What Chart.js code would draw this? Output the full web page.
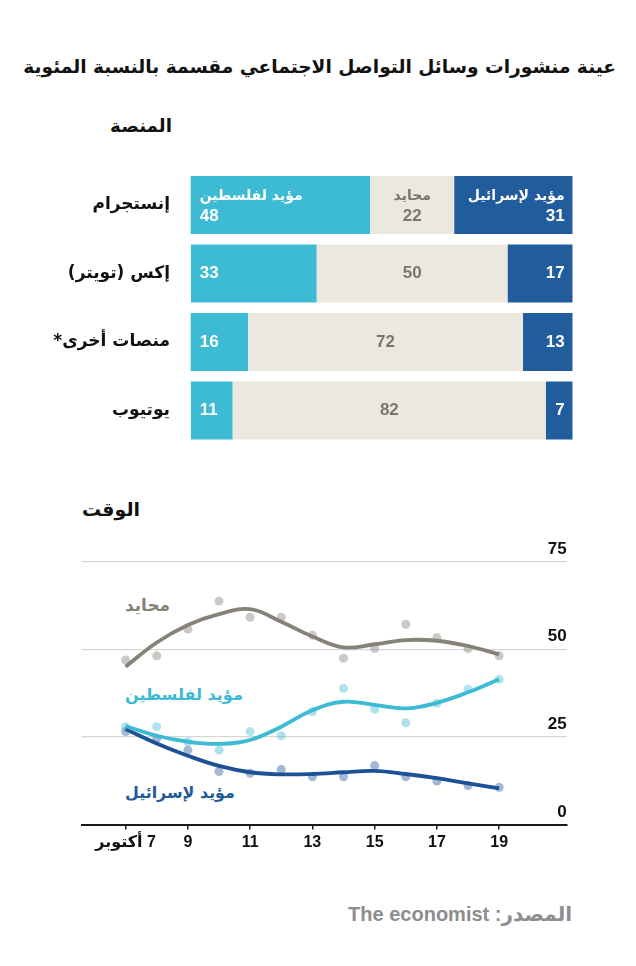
<!DOCTYPE html>
<html lang="ar">
<head>
<meta charset="utf-8">
<script src="https://cdn.jsdelivr.net/npm/chart.js@4.4.0/dist/chart.umd.min.js"></script>
<style>
    html, body { margin: 0; padding: 0; background: #fff; }
    body { width: 636px; height: 966px; position: relative; overflow: hidden; font-family: "Liberation Sans", "DejaVu Sans", sans-serif; }
    .txt { position: absolute; white-space: nowrap; font-weight: bold; line-height: 1; direction: rtl; }
    canvas { position: absolute; left: 0; direction: rtl; }
    #title { top: 58px; right: 20px; font-size: 21px; color: #111; font-family: "DejaVu Sans"; }
    #platformHead { top: 117px; right: 464px; font-size: 18px; color: #111; font-family: "DejaVu Sans"; }
    #timeHead { top: 500px; right: 496px; font-size: 18px; color: #111; font-family: "DejaVu Sans"; }
    #source { top: 904px; right: 64px; font-size: 19px; color: #8d8d8d; }
    .seriesTag { left: 125px; font-size: 15px; font-family: "DejaVu Sans"; }
    #barChart { top: 150px; }
    #lineChart { top: 530px; }
</style>
</head>
<body>
<div class="txt" id="title" data-w="593">عينة منشورات وسائل التواصل الاجتماعي مقسمة بالنسبة  المئوية</div>
<div class="txt" id="platformHead" data-w="62">المنصة</div>
<canvas id="barChart" width="636" height="310"></canvas>
<div class="txt" id="timeHead" data-w="58">الوقت</div>
<div class="txt seriesTag" id="tagNeutral" style="top:597px;color:#868274" data-w="45"></div>
<div class="txt seriesTag" id="tagPal" style="top:687px;color:#3cb9d4" data-w="118"></div>
<div class="txt seriesTag" id="tagIsr" style="top:785px;color:#235a9a" data-w="110"></div>
<canvas id="lineChart" width="636" height="340"></canvas>
<div class="txt" id="source" data-w="224">المصدر: The economist</div>

<script>
// ---- platform bars (percent of sampled posts) ----
const platforms = ['إنستجرام', 'إكس (تويتر)', 'منصات أخرى*', 'يوتيوب'];
const proIsrael = [31, 17, 13, 7];
const neutral = [22, 50, 72, 82];
const proPalestine = [48, 33, 16, 11];
const seriesNames = ['مؤيد لإسرائيل', 'محايد', 'مؤيد لفلسطين'];

// ---- daily share over time ----
const days = [7, 8, 9, 10, 11, 12, 13, 14, 15, 16, 17, 18, 19];
const neutralDots = [46.9, 48.1, 55.7, 63.7, 59.1, 59.1, 54.0, 47.4, 50.2, 57.1, 53.3, 50.2, 48.1];
const neutralTrend = [45.0, 51.9, 56.9, 60.0, 61.4, 57.8, 53.6, 50.5, 51.4, 52.6, 52.4, 50.9, 48.5];
const palestineDots = [27.9, 27.9, 23.6, 21.2, 26.5, 25.3, 32.2, 38.8, 32.9, 29.0, 34.6, 38.6, 41.4];
const palestineTrend = [28.1, 25.3, 23.6, 23.0, 24.1, 27.9, 32.6, 35.0, 34.1, 33.1, 34.7, 37.7, 41.4];
const israelDots = [26.5, 24.5, 21.2, 15.1, 14.6, 15.7, 13.6, 13.6, 16.8, 13.6, 12.4, 11.1, 10.6];
const israelTrend = [27.2, 23.1, 19.6, 16.7, 14.9, 14.3, 14.4, 14.9, 15.3, 14.4, 13.2, 11.7, 10.3];
const dayTicks = [7, 9, 11, 13, 15, 17, 19];
const dayTickLabels = ['7 أكتوبر', '9', '11', '13', '15', '17', '19'];
const valueTicks = [0, 25, 50, 75];

const colors = {
    israel: '#215c9c',
    neutral: '#ebe8e0',
    palestine: '#3dbad4',
    neutralText: '#7c7767',
    neutralLine: '#868376',
    israelLine: '#1d5195',
    grid: '#d6d6d6',
    axis: '#1a1a1a'
};

const numFont = 'bold 17px "Liberation Sans", "DejaVu Sans"';
const nameFont = 'bold 14px "DejaVu Sans"';

function fitText() {
    document.querySelectorAll('.txt[data-w]').forEach(el => {
        const target = parseFloat(el.dataset.w);
        const size = parseFloat(getComputedStyle(el).fontSize);
        const w = el.getBoundingClientRect().width;
        if (w > 0) el.style.fontSize = (size * target / w).toFixed(2) + 'px';
    });
}

document.getElementById('tagNeutral').textContent = seriesNames[1];
document.getElementById('tagPal').textContent = seriesNames[2];
document.getElementById('tagIsr').textContent = seriesNames[0];
fitText();

const barLabels = {
    id: 'barLabels',
    afterDatasetsDraw(chart) {
        const ctx = chart.ctx;
        const area = chart.chartArea;
        ctx.save();
        ctx.textBaseline = 'middle';
        chart.data.datasets.forEach((ds, di) => {
            const meta = chart.getDatasetMeta(di);
            meta.data.forEach((bar, i) => {
                const left = Math.max(Math.min(bar.x, bar.base), area.left);
                const right = Math.min(Math.max(bar.x, bar.base), area.right);
                let x;
                if (ds.labelAlign === 'left') x = left + 9;
                else if (ds.labelAlign === 'right') x = right - 8;
                else x = (left + right) / 2;
                ctx.textAlign = ds.labelAlign;
                ctx.fillStyle = ds.labelColor;
                ctx.font = numFont;
                // first row also carries the series name
                if (i === 0) {
                    ctx.fillText(String(ds.data[i]), x, bar.y + 11);
                    ctx.font = nameFont;
                    ctx.fillText(ds.label, x, bar.y - 9);
                } else {
                    ctx.fillText(String(ds.data[i]), x, bar.y);
                }
            });
        });
        ctx.restore();
    }
};

new Chart(document.getElementById('barChart'), {
    type: 'bar',
    data: {
        labels: platforms,
        datasets: [
            { label: seriesNames[0], data: proIsrael, backgroundColor: colors.israel, labelAlign: 'right', labelColor: '#fff' },
            { label: seriesNames[1], data: neutral, backgroundColor: colors.neutral, labelAlign: 'center', labelColor: colors.neutralText },
            { label: seriesNames[2], data: proPalestine, backgroundColor: colors.palestine, labelAlign: 'left', labelColor: '#fff' }
        ]
    },
    options: {
        indexAxis: 'y',
        responsive: false,
        animation: false,
        devicePixelRatio: 1,
        barPercentage: 0.847,
        categoryPercentage: 1,
        clip: 0,
        layout: { padding: { top: 20.75, bottom: 15.25, left: 0, right: 63.3 } },
        plugins: { legend: { display: false }, tooltip: { enabled: false } },
        scales: {
            x: { stacked: true, reverse: true, min: 0, max: 100, display: false },
            y: {
                stacked: true,
                // invisible tick marks hold the label gap without padding the chart area
                grid: { display: true, drawOnChartArea: false, drawTicks: true, tickLength: 20, color: 'rgba(0,0,0,0)' },
                border: { display: false },
                ticks: { padding: 0.7, color: '#111', font: { family: '"DejaVu Sans"', size: 17, weight: 'bold' } },
                afterFit: s => { s.width = 190.7; }
            }
        }
    },
    plugins: [barLabels]
});

const valueLabels = {
    id: 'valueLabels',
    afterDraw(chart) {
        const ctx = chart.ctx;
        const ys = chart.scales.y;
        ctx.save();
        ctx.font = numFont;
        ctx.fillStyle = '#111';
        ctx.textAlign = 'right';
        ctx.textBaseline = 'alphabetic';
        ys.ticks.forEach(t => {
            ctx.fillText(String(t.value), chart.chartArea.right, ys.getPixelForValue(t.value) - 8);
        });
        ctx.restore();
    }
};

const toPoints = vals => vals.map((v, i) => ({ x: days[i], y: v }));

function trendSet(vals, color) {
    return {
        type: 'line', data: toPoints(vals), borderColor: color, borderWidth: 3.8,
        pointRadius: 0, tension: 0.4, fill: false, order: 1
    };
}

function dotSet(vals, color) {
    return {
        type: 'scatter', data: toPoints(vals), backgroundColor: color, borderWidth: 0,
        pointRadius: 4.5, order: 2
    };
}

new Chart(document.getElementById('lineChart'), {
    type: 'line',
    data: {
        datasets: [
            trendSet(neutralTrend, colors.neutralLine),
            trendSet(palestineTrend, colors.palestine),
            trendSet(israelTrend, colors.israelLine),
            dotSet(neutralDots, 'rgba(150,148,140,0.5)'),
            dotSet(palestineDots, 'rgba(61,186,212,0.42)'),
            dotSet(israelDots, 'rgba(35,85,155,0.42)')
        ]
    },
    options: {
        responsive: false,
        animation: false,
        devicePixelRatio: 1,
        layout: { padding: { top: 31.5, bottom: 15.5, left: 81.7, right: 69.3 } },
        plugins: { legend: { display: false }, tooltip: { enabled: false } },
        scales: {
            x: {
                type: 'linear', min: 5.59, max: 21.17,
                afterBuildTicks: s => { s.ticks = dayTicks.map(v => ({ value: v })); },
                afterFit: s => { s.height = 30; },
                grid: { drawOnChartArea: false, color: colors.axis, lineWidth: 1.5, tickLength: 5 },
                border: { color: colors.axis, width: 2 },
                ticks: {
                    autoSkip: false, maxRotation: 0, padding: 3, color: '#111',
                    font: { family: '"Liberation Sans", "DejaVu Sans"', size: 16, weight: 'bold' },
                    callback: v => dayTickLabels[dayTicks.indexOf(v)]
                }
            },
            y: {
                position: 'right', min: 0, max: 75,
                afterBuildTicks: s => { s.ticks = valueTicks.map(v => ({ value: v })); },
                afterFit: s => { s.width = 0; },
                grid: { drawTicks: false, lineWidth: 1.3, color: c => c.tick && c.tick.value === 0 ? 'rgba(0,0,0,0)' : colors.grid },
                border: { display: false },
                ticks: { display: false }
            }
        }
    },
    plugins: [valueLabels]
});
</script>
</body>
</html>
